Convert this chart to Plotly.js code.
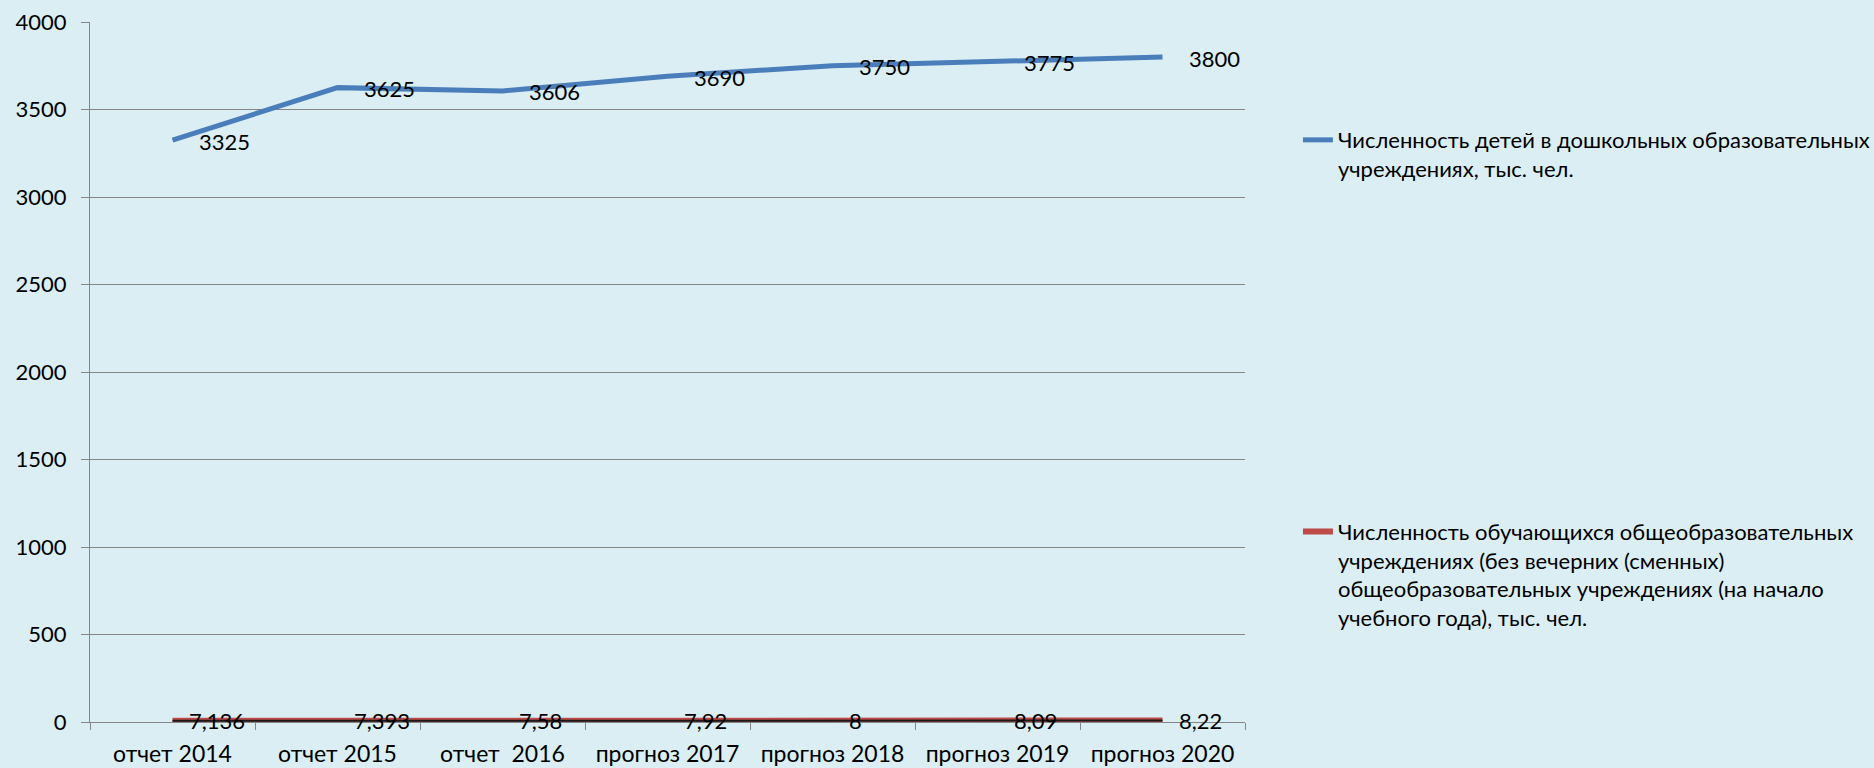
<!DOCTYPE html>
<html>
<head>
<meta charset="utf-8">
<script src="https://cdn.plot.ly/plotly-3.0.1.min.js"></script>
<style>html,body{margin:0;padding:0;background:#DBEEF3;}#chart{width:1874px;height:768px;}</style>
</head>
<body>
<div id="chart"></div>
<script>
const categories = ['отчет 2014', 'отчет 2015', 'отчет\u00a0 2016', 'прогноз 2017', 'прогноз 2018', 'прогноз 2019', 'прогноз 2020'];
const preschoolValues = [3325, 3625, 3606, 3690, 3750, 3775, 3800];
const schoolValues = [7.136, 7.393, 7.58, 7.92, 8, 8.09, 8.22];
const preschoolName = 'Численность детей в дошкольных образовательных<br>учреждениях, тыс. чел.';
const schoolName = 'Численность обучающихся общеобразовательных<br>учреждениях (без вечерних (сменных)<br>общеобразовательных учреждениях (на начало<br>учебного года), тыс. чел.';
const yTickValues = [0, 500, 1000, 1500, 2000, 2500, 3000, 3500, 4000];

const FONT = 'Lato, "Open Sans", sans-serif';
const fmt = v => String(v).replace('.', ',');

const traces = [
  {x: categories, y: preschoolValues, type: 'scatter', mode: 'lines', name: preschoolName,
   line: {color: '#4A7EBB', width: 5}, legend: 'legend', hoverinfo: 'skip'},
  {x: categories, y: schoolValues, type: 'scatter', mode: 'lines', name: schoolName,
   line: {color: '#BE4B48', width: 6}, legend: 'legend2', hoverinfo: 'skip'},
  {x: categories, y: schoolValues, type: 'scatter', mode: 'lines', showlegend: false,
   line: {color: '#1a1a1a', width: 2}, hoverinfo: 'skip'}
];

const annotations = [];
categories.forEach((c, i) => {
  annotations.push({x: c, y: preschoolValues[i], text: fmt(preschoolValues[i]), showarrow: false,
    xanchor: 'left', yanchor: 'middle', xshift: 24, yshift: -1, font: {family: FONT, size: 22, color: '#000'}});
  annotations.push({x: c, y: schoolValues[i], text: fmt(schoolValues[i]), showarrow: false,
    xanchor: 'left', yanchor: 'middle', xshift: 14, yshift: 0, font: {family: FONT, size: 22, color: '#000'}});
});

const layout = {
  width: 1874, height: 768,
  paper_bgcolor: '#DBEEF3', plot_bgcolor: '#DBEEF3',
  margin: {l: 90, r: 629, t: 22, b: 46},
  font: {family: FONT, size: 22, color: '#000'},
  showlegend: true,
  xaxis: {type: 'category', range: [-0.5, 6.5], showgrid: false, showline: true, linecolor: '#868686', linewidth: 1,
    ticks: 'outside', tickson: 'boundaries', ticklen: 7, tickcolor: '#868686', ticklabelstandoff: 11,
    tickfont: {family: FONT, size: 23, color: '#000'}, fixedrange: true},
  yaxis: {range: [0, 4000], tickvals: yTickValues, showgrid: true, gridcolor: '#868686', gridwidth: 1,
    showline: true, linecolor: '#868686', linewidth: 1, zeroline: false,
    ticks: 'outside', ticklen: 8, tickcolor: '#868686', ticklabelstandoff: 10,
    tickfont: {family: FONT, size: 22, color: '#000'}, fixedrange: true},
  legend: {xref: 'container', yref: 'container', x: 0.6926, y: 0.845, xanchor: 'left', yanchor: 'top',
    bgcolor: 'rgba(0,0,0,0)', valign: 'top', font: {family: FONT, size: 22, color: '#000'}},
  legend2: {xref: 'container', yref: 'container', x: 0.6926, y: 0.335, xanchor: 'left', yanchor: 'top',
    bgcolor: 'rgba(0,0,0,0)', valign: 'top', font: {family: FONT, size: 22, color: '#000'}},
  annotations: annotations
};

Plotly.newPlot('chart', traces, layout, {displayModeBar: false, staticPlot: true});
</script>
</body>
</html>
